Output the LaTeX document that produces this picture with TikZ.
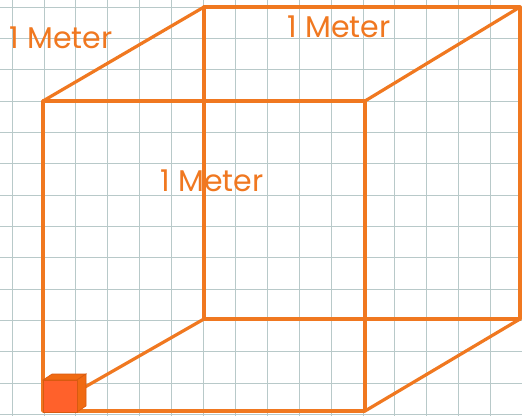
\documentclass[tikz,border=0pt]{standalone}
\usepackage{fontspec}
\setmainfont{Poppins}
\definecolor{gridc}{HTML}{B8C9C9}
\definecolor{edgec}{HTML}{F07820}
\definecolor{frontc}{HTML}{FF612B}
\definecolor{sidec}{HTML}{F06A12}
\definecolor{outc}{HTML}{D85A10}
\begin{document}
\begin{tikzpicture}[x=1pt,y=-1pt,
  gridline/.style={draw=gridc,line width=0.8pt},
  edge/.style={draw=edgec,line width=3.6pt,line cap=round,line join=round},
  backedge/.style={draw=edgec,line width=3.2pt,line cap=round,line join=round},
  lbl/.style={text=edgec,font=\fontsize{30}{33}\selectfont,inner sep=0pt}]
\useasboundingbox (0,0) rectangle (522,416);
\fill[white] (0,0) rectangle (522,416);
% grid
\foreach \k in {0,...,16} \draw[gridline] ({12+31.9*\k},0) -- ({12+31.9*\k},416);
\foreach \k in {0,...,13} \draw[gridline] (0,{7+31.35*\k}) -- (522,{7+31.35*\k});
% cube corners
\coordinate (A) at (43,101);
\coordinate (B) at (365,101);
\coordinate (C) at (365,411);
\coordinate (D) at (43,411);
\coordinate (E) at (204,7);
\coordinate (F) at (520,7);
\coordinate (G) at (520,319);
\coordinate (H) at (204,319);
% back edges
\draw[backedge] (E) -- (F) -- (G) -- (H) -- cycle;
% depth edges
\draw[backedge] (A) -- (E);
\draw[backedge] (B) -- (F);
\draw[backedge] (C) -- (G);
\draw[backedge] (D) -- (H);
% front face
\draw[edge] (A) -- (B) -- (C) -- (D) -- cycle;
% small cube
\coordinate (s1) at (43,380);
\coordinate (s2) at (77,380);
\coordinate (s3) at (77,412);
\coordinate (s4) at (43,412);
\filldraw[fill=sidec,draw=outc,line width=0.6pt] (s1) -- ++(9,-6) -- ++(34,0) -- (s2) -- cycle;
\filldraw[fill=sidec,draw=outc,line width=0.6pt] (s2) -- ++(9,-6) -- ++(0,32) -- (s3) -- cycle;
\filldraw[fill=frontc,draw=outc,line width=0.6pt] (s1) -- (s2) -- (s3) -- (s4) -- cycle;
% labels
\node[lbl] (l1) at (61,38) {1 Meter};
\node[lbl] (l2) at (339,27) {1 Meter};
\node[lbl] (l3) at (212,181) {1 Meter};
\end{tikzpicture}
\end{document}
